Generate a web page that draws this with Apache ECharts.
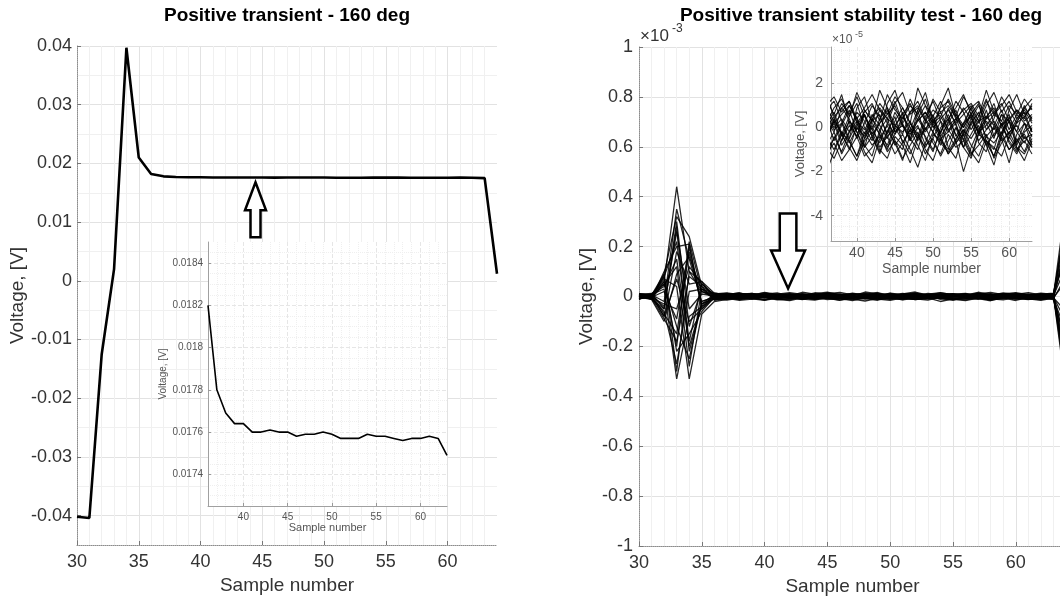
<!DOCTYPE html>
<html>
<head>
<meta charset="utf-8">
<script src="https://cdn.jsdelivr.net/npm/echarts@6/dist/echarts.min.js"></script>
<style>html,body{margin:0;padding:0;background:#fff}#c{width:1060px;height:601px}</style>
</head>
<body>
<div id="c"></div>
<script>
// ---------------- DATA ----------------
const sampleNumbers = [30,31,32,33,34,35,36,37,38,39,40,41,42,43,44,45,46,47,48,49,50,51,52,53,54,55,56,57,58,59,60,61,62,63,64];

// Left panel: positive transient, volts
const transientVoltage = [-0.0402,-0.0404,-0.0125,0.0020,0.0397,0.0210,0.0182,0.01780,0.01769,0.01764,0.01764,0.01760,0.01760,0.01761,0.01760,0.01760,0.01758,0.01759,0.01759,0.01760,0.01759,0.01757,0.01757,0.01757,0.01759,0.01758,0.01758,0.01757,0.01756,0.01757,0.01757,0.01758,0.01757,0.01749,0.0012];

// Right panel: stability test traces
// samples 30..35, units of 1e-3 V
const stabilityHead = [
  [0.005,-0.008,0.06,0.44,0.10,0.02],
  [-0.010,0.006,0.09,0.32,0.24,0.04],
  [0.008,0.012,-0.05,0.30,-0.12,0.03],
  [-0.004,-0.010,0.10,0.20,0.21,-0.05],
  [0.012,0.003,-0.08,0.18,0.05,0.06],
  [-0.006,0.009,0.04,0.15,-0.20,-0.03],
  [0.003,-0.012,-0.10,0.09,0.16,0.02],
  [-0.011,0.004,0.07,0.04,-0.33,-0.07],
  [0.007,-0.005,-0.03,-0.05,0.12,0.05],
  [-0.002,0.011,0.05,-0.12,-0.25,-0.02],
  [0.010,-0.007,-0.09,-0.18,0.08,0.04],
  [-0.008,0.002,0.08,-0.22,-0.15,-0.06],
  [0.004,-0.010,-0.06,-0.27,0.02,0.03],
  [-0.012,0.008,0.03,-0.33,-0.08,-0.04],
  [0.009,0.005,-0.04,0.26,-0.05,0.01],
  [-0.005,-0.003,0.02,-0.09,0.20,-0.03],
  [0.006,-0.004,0.08,0.22,-0.18,0.05],
  [-0.009,0.010,-0.07,-0.15,0.18,-0.04],
  [0.011,-0.006,0.05,0.12,-0.28,0.03],
  [-0.003,0.007,-0.02,0.35,0.15,-0.02],
  [0.002,-0.011,0.09,-0.30,0.10,0.06],
  [-0.007,0.001,-0.08,0.07,-0.10,-0.05],
  [0.010,0.008,0.06,-0.20,0.22,0.02],
  [-0.004,-0.009,-0.05,0.28,-0.22,-0.03]
];
// samples 36..63, units of 1e-5 V
const stabilityNoise = [
  [0.8,1.2,0.3,-0.5,0.9,1.4,0.2,-0.3,1.1,1.7,0.6,-0.2,0.4,1.0,0.1,-0.6,0.3,1.2,0.7,-0.1,0.5,1.3,0.2,-0.4,0.8,1.5,0.6,0.9],
  [-1.5,-0.4,-1.1,-0.2,0.5,-0.8,-1.3,-0.1,0.4,-0.6,-1.0,0.2,-0.3,-1.2,-0.5,0.3,-0.9,-1.4,-0.2,0.6,-0.7,-1.1,0.1,-0.5,-1.6,-0.3,0.2,-0.8],
  [0.3,-0.2,0.9,0.4,-0.5,0.2,1.0,0.5,-0.3,0.7,0.1,-0.6,0.8,1.6,0.3,-0.2,0.6,-0.4,0.2,0.9,-0.1,0.4,1.1,0.0,-0.5,0.3,0.7,-0.2],
  [-0.6,0.4,-0.3,-1.0,0.1,0.6,-0.4,-1.2,-0.2,0.5,-0.7,-0.1,0.8,-0.5,-1.1,0.0,0.4,-0.3,-0.9,0.2,0.7,-0.6,-1.3,-0.2,0.3,-0.8,-0.1,0.5],
  [1.3,0.6,1.5,0.2,-0.4,0.8,0.3,1.7,0.9,0.1,-0.3,0.7,1.2,0.4,-0.2,1.0,1.8,0.5,0.0,0.6,1.1,-0.1,0.4,1.4,0.8,0.2,1.0,0.3],
  [-0.9,-1.4,-0.6,0.3,-0.2,-1.1,-1.6,-0.5,0.1,-0.8,-0.3,-1.0,-1.8,-0.7,0.2,-0.4,-1.2,-0.6,-2.0,-0.9,-0.1,-0.7,-1.3,-0.4,0.3,-0.9,-1.5,-0.6],
  [0.1,0.7,-0.3,0.5,1.1,0.0,-0.6,0.4,0.9,-0.2,0.3,1.3,0.5,-0.1,0.6,-0.4,0.2,0.8,-0.3,0.4,1.0,0.2,-0.5,0.6,0.3,-0.2,0.9,0.4],
  [-2.0,-1.1,-0.3,-0.9,-1.5,-0.6,-0.2,-1.0,-1.4,-0.4,-0.8,-1.6,-0.5,0.0,-0.7,-1.2,-0.3,-0.9,-0.6,-1.3,-0.2,-0.8,-1.7,-0.4,-1.0,-0.5,-1.1,-0.3],
  [0.5,-0.1,0.2,1.0,0.4,-0.3,0.6,0.1,-0.5,0.3,0.9,0.2,-0.4,0.5,1.2,0.3,-0.2,0.4,0.0,0.7,-0.3,0.5,0.1,0.8,-0.1,0.6,0.2,-0.4],
  [-0.3,0.2,-0.8,-0.2,0.3,-0.5,0.4,-0.1,-0.9,-0.3,0.2,-0.6,0.0,-0.4,-1.0,-0.2,0.4,-0.7,-0.1,-0.5,0.1,-0.8,-0.3,0.2,-0.6,-1.1,-0.2,0.1],
  [1.0,1.4,0.7,1.2,0.4,0.9,1.5,0.8,0.2,1.1,1.6,0.6,0.9,0.3,1.3,0.7,1.0,0.5,1.4,0.8,0.3,1.2,0.6,1.0,1.5,0.7,0.4,1.1],
  [-0.2,0.3,-0.6,0.1,-0.4,0.6,-0.1,-0.7,0.2,-0.3,0.5,0.0,-0.5,0.3,-0.2,-0.8,0.1,0.4,-0.4,0.2,-0.6,-0.1,0.3,-0.3,0.5,-0.2,-0.7,0.0],
  [-1.2,-0.7,-1.5,-1.0,-0.4,-1.3,-0.9,-0.3,-1.1,-0.6,-1.4,-0.8,-0.2,-1.0,-1.5,-0.5,-1.2,-0.7,-0.3,-1.1,-1.6,-0.6,-0.9,-1.3,-0.4,-1.0,-0.6,-1.2],
  [0.6,0.0,0.4,-0.2,0.7,0.3,-0.4,0.2,0.6,1.0,0.1,-0.3,0.3,0.7,0.2,0.5,-0.1,0.3,0.9,0.4,-0.2,0.1,0.6,0.3,-0.3,0.4,0.8,0.2],
  [0.2,0.9,1.3,0.5,1.6,0.8,0.3,1.1,0.6,1.4,0.9,0.2,1.8,1.0,0.5,1.2,0.4,0.9,1.5,0.6,0.2,1.0,1.6,0.7,1.2,0.4,0.9,1.3],
  [-0.4,-1.0,-0.2,-0.6,-1.3,-0.5,0.1,-0.9,-0.4,-1.2,-0.7,-0.1,-0.8,-1.5,-0.3,-0.6,-1.0,0.0,-0.5,-1.2,-0.8,-0.3,-1.4,-0.7,-0.2,-0.9,-1.2,-0.5],
  [0.4,-0.6,0.1,0.8,-0.2,-0.9,0.3,0.6,-0.4,0.0,0.7,-0.5,-1.0,0.2,0.5,-0.3,0.9,0.1,-0.6,0.3,-0.2,0.8,-0.4,0.1,0.6,-0.7,0.2,-0.1],
  [-0.8,-0.2,-1.2,-0.5,0.2,-0.9,-0.4,-1.1,-0.1,-0.7,-1.5,-0.3,0.1,-0.8,-0.5,-1.3,-0.6,0.0,-0.9,-1.4,-0.3,-0.6,-1.0,0.2,-0.7,-1.2,-0.4,-0.9],
  [1.4,0.5,0.9,1.2,0.2,0.7,1.1,0.3,1.5,0.8,0.4,1.0,0.6,1.3,0.2,0.9,1.2,0.4,0.8,1.1,0.5,1.7,0.7,0.3,1.0,0.6,1.3,0.8],
  [0.0,0.5,-0.4,0.3,-0.1,0.6,-0.3,0.2,0.8,-0.2,0.1,-0.5,0.4,-0.2,0.3,0.7,-0.1,-0.6,0.2,0.5,-0.3,0.3,-0.1,0.6,-0.4,0.2,0.5,-0.2],
  [-1.1,-0.5,0.2,-0.6,-1.3,-0.2,-0.8,-0.4,-1.0,0.0,-0.6,-1.2,-0.4,-0.9,-0.2,-0.7,-1.1,-0.5,-0.1,-0.8,-1.3,-0.4,-0.7,-0.2,-1.0,-0.6,-0.3,-0.9],
  [0.7,0.2,0.6,1.0,0.3,-0.1,0.5,0.9,0.4,0.1,0.6,1.1,0.3,0.7,0.0,0.4,0.8,0.2,0.6,1.0,0.3,0.5,0.9,0.1,0.4,0.8,0.3,0.6],
  [-0.5,0.3,-0.2,-0.7,0.0,-0.4,0.4,-0.3,-0.8,0.1,-0.2,0.3,-0.6,-0.1,0.4,-0.5,-0.2,0.2,-0.9,-0.3,0.3,-0.4,0.0,-0.6,-0.2,0.1,-0.5,-0.3],
  [0.9,0.3,1.1,0.6,1.4,0.5,-0.1,0.8,0.4,1.2,0.2,0.7,1.0,0.3,0.8,0.5,1.3,0.6,0.1,0.9,1.2,0.4,0.7,1.1,0.3,0.8,0.5,1.0]
];
// sample 64, units of 1e-3 V
const stabilityTail = [0.30,-0.25,0.20,-0.35,0.12,-0.18,0.38,-0.10,0.06,-0.28,0.24,-0.20,0.34,-0.38,0.16,-0.06,0.22,-0.14,0.28,-0.30,0.08,-0.24,0.18,-0.32];

// tick labels
const mainXTicks = [30,35,40,45,50,55,60];
const leftYTicks = [-0.04,-0.03,-0.02,-0.01,0,0.01,0.02,0.03,0.04];
const leftInsetYTicks = [0.0174,0.0176,0.0178,0.018,0.0182,0.0184];
const insetXTicks = [40,45,50,55,60];
const rightInsetYTicks = [-4,-2,0,2];

// text
const leftTitle = 'Positive transient - 160 deg';
const rightTitle = 'Positive transient stability test - 160 deg';
const xName = 'Sample number';
const yName = 'Voltage, [V]';

// annotation anchors (data coordinates)
const leftArrowTip = [44.45, 0.0168];
const rightArrowTip = [41.87, 0.032];

// ---------------- BUILD ----------------
const FONT = '"Liberation Sans", Arial, Helvetica, sans-serif';
const pairs = (xs, ys) => xs.map((x, i) => [x, ys[i]]);
const leftMainData = pairs(sampleNumbers, transientVoltage);
const leftInsetData = leftMainData.filter(p => p[0] >= 36 && p[0] <= 63);
const headSamples = sampleNumbers.filter(s => s <= 35);
const noiseSamples = sampleNumbers.filter(s => s >= 36 && s <= 63);
const tailSample = sampleNumbers[sampleNumbers.length - 1];
const mainTraces = stabilityHead.map((h, k) => [
  ...pairs(headSamples, h),
  ...pairs(noiseSamples, stabilityNoise[k].map(v => v * 0.01)),
  [tailSample, stabilityTail[k]]
]);
const insetTraces = stabilityNoise.map(n => pairs(noiseSamples, n));

const mainAxisLine = {show: true, onZero: false, lineStyle: {color: '#8c8c8c', type: 'dotted', width: 1}};
const insetAxisLine = {show: true, onZero: false, lineStyle: {color: '#a0a0a0', width: 1}};
const mainSplit = {show: true, lineStyle: {color: '#e2e2e2', width: 1}};
const mainMinor = {show: true, lineStyle: {color: '#f0f0f0', width: 1}};
const insetSplit = {show: true, lineStyle: {color: '#e6e6e6', width: 1, type: 'dashed'}};
const insetMinor = {show: true, lineStyle: {color: '#efefef', width: 1, type: 'dotted'}};

function mainLabel(margin) { return {fontSize: 18, color: '#333', fontFamily: FONT, margin: margin}; }
function insetLabel(size, margin) { return {fontSize: size, color: '#555', fontFamily: FONT, margin: margin}; }

const option = {
  animation: false,
  backgroundColor: '#fff',
  grid: [
    {left: 77, top: 46, width: 420, height: 499, outerBoundsMode: 'none'},
    {left: 208, top: 242, width: 239, height: 264, show: true, backgroundColor: '#fff', borderWidth: 0, z: 3, outerBoundsMode: 'none'},
    {left: 639, top: 47, width: 427, height: 499, outerBoundsMode: 'none'},
    {left: 831, top: 47, width: 201, height: 194, show: true, backgroundColor: '#fff', borderWidth: 0, z: 3, outerBoundsMode: 'none'}
  ],
  xAxis: [
    {gridIndex: 0, type: 'value', min: 30, max: 64, interval: 5,
     axisLine: mainAxisLine, axisTick: {show: true, inside: true, length: 4, customValues: mainXTicks, lineStyle: {color: '#777'}},
     axisLabel: Object.assign(mainLabel(8), {customValues: mainXTicks}), splitLine: mainSplit,
     minorTick: {show: false, splitNumber: 5}, minorSplitLine: mainMinor,
     name: xName, nameLocation: 'middle', nameGap: 30,
     nameTextStyle: {fontSize: 19, color: '#333', fontFamily: FONT}},
    {gridIndex: 1, type: 'value', min: 36, max: 63, z: 4,
     axisLine: insetAxisLine, axisTick: {show: true, inside: true, length: 3, customValues: insetXTicks, lineStyle: {color: '#999'}},
     axisLabel: Object.assign(insetLabel(10, 6), {customValues: insetXTicks}),
     splitLine: insetSplit, minorTick: {show: false, splitNumber: 5}, minorSplitLine: insetMinor,
     name: xName, nameLocation: 'middle', nameGap: 16,
     nameTextStyle: {fontSize: 11, color: '#555', fontFamily: FONT}},
    {gridIndex: 2, type: 'value', min: 30, max: 64, interval: 5,
     axisLine: mainAxisLine, axisTick: {show: true, inside: true, length: 4, customValues: mainXTicks, lineStyle: {color: '#777'}},
     axisLabel: Object.assign(mainLabel(8), {customValues: mainXTicks}), splitLine: mainSplit,
     minorTick: {show: false, splitNumber: 5}, minorSplitLine: mainMinor,
     name: xName, nameLocation: 'middle', nameGap: 30,
     nameTextStyle: {fontSize: 19, color: '#333', fontFamily: FONT}},
    {gridIndex: 3, type: 'value', min: 36.6, max: 63, z: 4,
     axisLine: insetAxisLine, axisTick: {show: true, inside: true, length: 3, customValues: insetXTicks, lineStyle: {color: '#999'}},
     axisLabel: Object.assign(insetLabel(14, 5), {customValues: insetXTicks}),
     splitLine: insetSplit, minorTick: {show: false, splitNumber: 5}, minorSplitLine: insetMinor,
     name: xName, nameLocation: 'middle', nameGap: 21,
     nameTextStyle: {fontSize: 14, color: '#555', fontFamily: FONT}}
  ],
  yAxis: [
    {gridIndex: 0, type: 'value', min: -0.045, max: 0.04, splitNumber: 8,
     axisLine: mainAxisLine,
     axisTick: {show: true, inside: true, length: 4, customValues: leftYTicks, lineStyle: {color: '#777'}},
     axisLabel: Object.assign(mainLabel(5), {customValues: leftYTicks, formatter: v => (Math.abs(v) < 1e-12 ? '0' : String(+v.toFixed(3)))}),
     splitLine: mainSplit, minorTick: {show: false, splitNumber: 2}, minorSplitLine: mainMinor,
     name: yName, nameLocation: 'middle', nameGap: 49, nameRotate: 90,
     nameTextStyle: {fontSize: 19, color: '#333', fontFamily: FONT}},
    {gridIndex: 1, type: 'value', min: 0.01725, max: 0.0185, z: 4,
     axisLine: insetAxisLine,
     axisTick: {show: true, inside: true, length: 3, customValues: leftInsetYTicks, lineStyle: {color: '#999'}},
     axisLabel: Object.assign(insetLabel(10, 5), {customValues: leftInsetYTicks}),
     splitLine: insetSplit, minorTick: {show: false, splitNumber: 4}, minorSplitLine: insetMinor,
     name: yName, nameLocation: 'middle', nameGap: 36, nameRotate: 90,
     nameTextStyle: {fontSize: 10, color: '#555', fontFamily: FONT}},
    {gridIndex: 2, type: 'value', min: -1, max: 1, interval: 0.2,
     axisLine: mainAxisLine, axisTick: {show: true, inside: true, length: 4, lineStyle: {color: '#777'}},
     axisLabel: mainLabel(6), splitLine: mainSplit,
     name: yName, nameLocation: 'middle', nameGap: 43, nameRotate: 90,
     nameTextStyle: {fontSize: 19, color: '#333', fontFamily: FONT}},
    {gridIndex: 3, type: 'value', min: -5.15, max: 3.66, z: 4,
     axisLine: insetAxisLine,
     axisTick: {show: true, inside: true, length: 3, customValues: rightInsetYTicks, lineStyle: {color: '#999'}},
     axisLabel: Object.assign(insetLabel(14, 8), {customValues: rightInsetYTicks}),
     splitLine: insetSplit, minorTick: {show: false, splitNumber: 4}, minorSplitLine: insetMinor,
     name: yName, nameLocation: 'middle', nameGap: 20, nameRotate: 90,
     nameTextStyle: {fontSize: 13, color: '#555', fontFamily: FONT}}
  ],
  series: [
    {type: 'line', xAxisIndex: 0, yAxisIndex: 0, data: leftMainData, showSymbol: false, symbol: 'none',
     lineStyle: {color: '#000', width: 2.6}, clip: true, z: 2},
    {type: 'line', xAxisIndex: 1, yAxisIndex: 1, data: leftInsetData, showSymbol: false, symbol: 'none',
     lineStyle: {color: '#000', width: 1.6}, clip: true, z: 5},
    ...mainTraces.map(d => ({type: 'line', xAxisIndex: 2, yAxisIndex: 2, data: d, showSymbol: false, symbol: 'none',
     lineStyle: {color: '#000', width: 1.3, opacity: 0.85}, clip: true, z: 2})),
    ...insetTraces.map(d => ({type: 'line', xAxisIndex: 3, yAxisIndex: 3, data: d, showSymbol: false, symbol: 'none',
     lineStyle: {color: '#000', width: 1.1, opacity: 0.85}, clip: true, z: 5}))
  ]
};

const chart = echarts.init(document.getElementById('c'));
chart.setOption(option);

// ---- annotations (titles, exponent labels, arrows) ----
const g0 = chart.convertToPixel({gridIndex: 0}, [30, 0.04]);
const g0r = chart.convertToPixel({gridIndex: 0}, [64, 0.04]);
const g2 = chart.convertToPixel({gridIndex: 2}, [30, 1]);
const g3 = chart.convertToPixel({gridIndex: 3}, [36.6, 3.66]);
const lt = chart.convertToPixel({gridIndex: 0}, leftArrowTip);
const rt = chart.convertToPixel({gridIndex: 2}, rightArrowTip);

function upArrow(tip, headLen, headHalf, shaftHalf, total) {
  const [x, y] = tip;
  return [[x, y], [x + headHalf, y + headLen], [x + shaftHalf, y + headLen], [x + shaftHalf, y + total],
          [x - shaftHalf, y + total], [x - shaftHalf, y + headLen], [x - headHalf, y + headLen]];
}
function downArrow(tip, headLen, headHalf, shaftHalf, total) {
  return upArrow(tip, headLen, headHalf, shaftHalf, total).map(p => [p[0], 2 * tip[1] - p[1]]);
}

chart.setOption({
  graphic: [
    {type: 'text', x: (g0[0] + g0r[0]) / 2, y: 16, z: 20,
     style: {text: leftTitle, font: 'bold 19px ' + FONT, fill: '#000', align: 'center', verticalAlign: 'middle'}},
    {type: 'text', x: 861, y: 16, z: 20,
     style: {text: rightTitle, font: 'bold 19px ' + FONT, fill: '#000', align: 'center', verticalAlign: 'middle'}},
    {type: 'text', x: g2[0] + 1, y: g2[1] - 11, z: 20,
     style: {text: '×10', font: '17px ' + FONT, fill: '#333', align: 'left', verticalAlign: 'middle'}},
    {type: 'text', x: g2[0] + 33, y: g2[1] - 18, z: 20,
     style: {text: '-3', font: '12px ' + FONT, fill: '#333', align: 'left', verticalAlign: 'middle'}},
    {type: 'text', x: g3[0] + 1, y: g3[1] - 7, z: 20,
     style: {text: '×10', font: '12px ' + FONT, fill: '#555', align: 'left', verticalAlign: 'middle'}},
    {type: 'text', x: g3[0] + 24, y: g3[1] - 12, z: 20,
     style: {text: '-5', font: '9px ' + FONT, fill: '#555', align: 'left', verticalAlign: 'middle'}},
    {type: 'polygon', z: 20, shape: {points: upArrow(lt, 28, 10.5, 5, 55)},
     style: {fill: '#fff', stroke: '#000', lineWidth: 2.5}},
    {type: 'polygon', z: 20, shape: {points: downArrow(rt, 38, 17, 8.3, 75)},
     style: {fill: '#fff', stroke: '#000', lineWidth: 2.5}}
  ]
});
</script>
</body>
</html>
